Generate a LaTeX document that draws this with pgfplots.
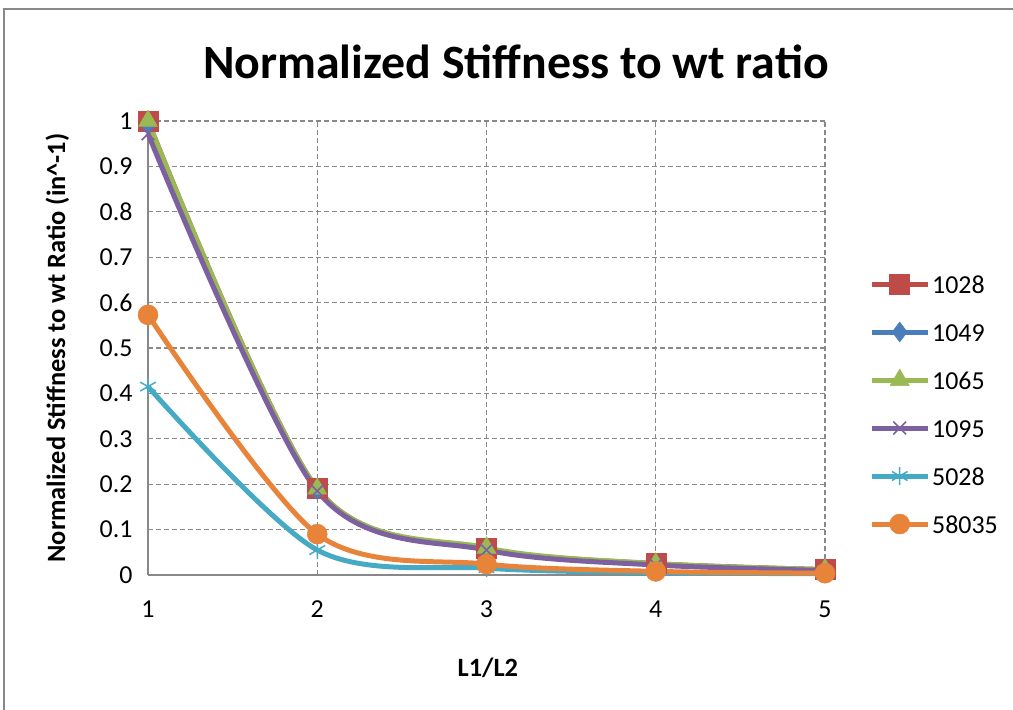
\documentclass[border=0pt]{standalone}
\usepackage{pgfplots}
\pgfplotsset{compat=1.18}
\usepackage{fontspec}
\setmainfont{Carlito}
\definecolor{c1028}{HTML}{BE4B48}
\definecolor{c1049}{HTML}{4A7EBB}
\definecolor{c1065}{HTML}{98B954}
\definecolor{c1095}{HTML}{7D60A0}
\definecolor{c5028}{HTML}{46AAC5}
\definecolor{c58035}{HTML}{E8843A}
\definecolor{gridc}{HTML}{888888}
\begin{document}
\begin{tikzpicture}
\useasboundingbox (0bp,0bp) rectangle (1013bp,710bp);
\draw[gridc,line width=2.5bp] (4bp,-5bp) -- (4bp,701bp) -- (1020bp,701bp);
\node[font=\fontsize{48}{56}\selectfont\bfseries] at (516bp,648bp) {Normalized Stiffness to wt ratio};
\begin{axis}[
  at={(148bp,135bp)}, anchor=south west,
  scale only axis, width=677bp, height=454bp,
  xmin=1, xmax=5, ymin=0, ymax=1,
  xtick={1,2,3,4,5}, ytick={0,0.1,...,1},
  yticklabels={0,0.1,0.2,0.3,0.4,0.5,0.6,0.7,0.8,0.9,1},
  major tick length=0pt,
  tick label style={font=\fontsize{26}{30}\selectfont},
  yticklabel style={xshift=-12bp},
  xticklabel style={yshift=-22bp},
  /pgf/number format/assume math mode=true,
  grid=major,
  grid style={gridc, dashed, line width=1.3bp, dash pattern=on 5bp off 3bp},
  axis line style={gridc, line width=1.8bp},
  axis x line*=bottom, axis y line*=left,
  xlabel={\bfseries L1/L2},
  ylabel={\bfseries Normalized Stiffness to wt Ratio (in\^{}-1)},
  every axis x label/.style={at={(rel axis cs:0.502,-0.205)}, anchor=center, font=\fontsize{26.5}{30}\selectfont},
  every axis y label/.style={at={(rel axis cs:-0.134,0.5)}, rotate=90, anchor=center, font=\fontsize{26.5}{30}\selectfont},
  clip=false,
  every axis plot/.append style={line width=5bp, smooth, tension=0.5},
  legend cell align=left,
  legend style={at={(1.0606,0.670)}, anchor=north west, draw=none, fill=none,
    font=\fontsize{26}{30}\selectfont, row sep=26bp,
    nodes={inner sep=2bp, text height=18bp, text depth=0bp}},
  legend image code/.code={\draw[mark repeat=2,mark phase=2] plot coordinates {(0bp,0bp) (28bp,0bp) (56bp,0bp)};},
]
\addplot[c1028, mark=square*, mark size=10bp, mark options={solid, line width=0.5bp}] coordinates {(1,1) (2,0.19) (3,0.058) (4,0.025) (5,0.012)};
\addlegendentry{1028}
\addplot[c1049, mark=diamond*, mark size=10bp, mark options={solid, line width=0.5bp}] coordinates {(1,0.995) (2,0.188) (3,0.057) (4,0.024) (5,0.011)};
\addlegendentry{1049}
\addplot[c1065, mark=triangle*, mark size=11bp, mark options={solid, line width=0.5bp}] coordinates {(1,1) (2,0.19) (3,0.06) (4,0.025) (5,0.012)};
\addlegendentry{1065}
\addplot[c1095, mark=x, mark size=9bp, mark options={solid, line width=1.5bp}] coordinates {(1,0.972) (2,0.185) (3,0.055) (4,0.022) (5,0.01)};
\addlegendentry{1095}
\addplot[c5028, mark=asterisk, mark size=9bp, mark options={solid, line width=1.5bp}] coordinates {(1,0.415) (2,0.055) (3,0.015) (4,0.005) (5,0.003)};
\addlegendentry{5028}
\addplot[c58035, mark=*, mark size=10bp, mark options={solid, line width=0.5bp}] coordinates {(1,0.573) (2,0.09) (3,0.024) (4,0.008) (5,0.004)};
\addlegendentry{58035}
\end{axis}
\end{tikzpicture}
\end{document}
